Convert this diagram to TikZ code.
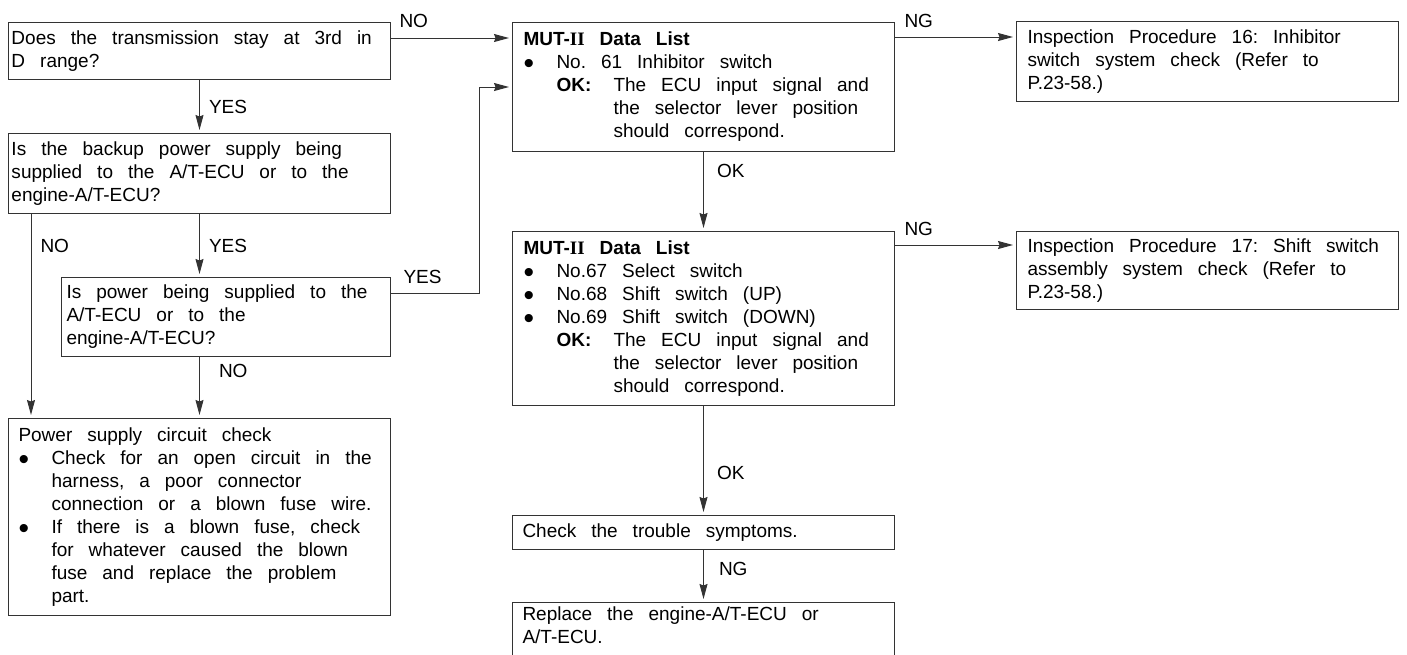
\documentclass[tikz,border=0pt]{standalone}
\usepackage{fontspec}
\setmainfont{Liberation Sans}
\newfontfamily\mutfont{Liberation Serif}
\usetikzlibrary{arrows.meta}
\newcommand\flowfont{\fontsize{19}{23}\selectfont}
\newcommand\dotitem{\makebox[33pt][l]{\raisebox{-5pt}[0pt][0pt]{\fontsize{30}{23}\selectfont\textbullet}}}
\newcommand\okline{\hspace*{33pt}\makebox[57pt][l]{\textbf{OK:}}}
\begin{document}
\begin{tikzpicture}[x=1pt,y=-1pt,
  box/.style={draw=black!80,line width=1pt,anchor=north west,align=left,font=\flowfont,inner ysep=4pt,
    execute at begin node={\spaceskip=15pt plus 2pt minus 1pt\xspaceskip=15pt plus 2pt minus 1pt}},
  arr/.style={draw=black!80,line width=1pt,-{Stealth[length=15pt,width=8pt,inset=1.5pt]},shorten >=3pt},
  lbl/.style={font=\flowfont,inner sep=0pt}]
\useasboundingbox (0,0) rectangle (1407,654);
\clip (0,0) rectangle (1407,654);
% left column: questions
\node[box,text width=376pt,inner xsep=3pt,minimum height=57pt] (q1) at (8,22) {Does the transmission stay at 3rd in\\D range?};
\node[box,text width=376pt,inner xsep=3pt,minimum height=80pt] (q2) at (8,133) {Is the backup power supply being\\supplied to the A/T-ECU or to the\\engine-A/T-ECU?};
\node[box,text width=319pt,inner xsep=5pt,minimum height=79pt] (q3) at (61,277) {Is power being supplied to the\\A/T-ECU or to the\\engine-A/T-ECU?};
\node[box,text width=362pt,inner xsep=10pt,minimum height=197pt] (pwr) at (8,418) {Power supply circuit check\\
  \dotitem Check for an open circuit in the\\
  \hspace*{33pt}harness, a poor connector\\
  \hspace*{33pt}connection or a blown fuse wire.\\
  \dotitem If there is a blown fuse, check\\
  \hspace*{33pt}for whatever caused the blown\\
  \hspace*{33pt}fuse and replace the problem\\
  \hspace*{33pt}part.};
% middle column: data list checks
\node[box,text width=360pt,inner xsep=11pt,minimum height=129pt] (mut1) at (512,22) {\textbf{MUT-{\mutfont II} Data List}\\
  \dotitem No. 61 Inhibitor switch\\
  \okline The ECU input signal and\\
  \hspace*{90pt}the selector lever position\\
  \hspace*{90pt}should correspond.};
\node[box,text width=360pt,inner xsep=11pt,minimum height=174pt] (mut2) at (512,231) {\textbf{MUT-{\mutfont II} Data List}\\
  \dotitem No.67 Select switch\\
  \dotitem No.68 Shift switch (UP)\\
  \dotitem No.69 Shift switch (DOWN)\\
  \okline The ECU input signal and\\
  \hspace*{90pt}the selector lever position\\
  \hspace*{90pt}should correspond.};
\node[box,text width=362pt,inner xsep=10pt,minimum height=34pt] (chk) at (512,515) {Check the trouble symptoms.};
\node[box,text width=362pt,inner xsep=10pt,text depth=40pt] (repl) at (512,602) {Replace the engine-A/T-ECU or\\A/T-ECU.};
% right column: procedures
\node[box,text width=360pt,inner xsep=11pt,minimum height=80pt] (insp16) at (1016,21) {Inspection Procedure 16: Inhibitor\\switch system check (Refer to\\P.23-58.)};
\node[box,text width=360pt,inner xsep=11pt,minimum height=78pt] (insp17) at (1016,231) {Inspection Procedure 17: Shift switch\\assembly system check (Refer to\\P.23-58.)};
% exits off the box sides
\coordinate (q1o) at ([yshift=-16pt]q1.north east);
\coordinate (q2l) at ([xshift=23pt]q2.south west);
\coordinate (q3o) at ([yshift=-16pt]q3.north east);
\coordinate (m1i) at ([yshift=-65pt]mut1.north west);
\coordinate (m1o) at ([yshift=-15pt]mut1.north east);
\coordinate (m2o) at ([yshift=-14pt]mut2.north east);
% connectors
\draw[arr] (q1o) -- node[lbl,pos=0,anchor=base west,xshift=8pt,yshift=11pt] {NO} (q1o -| mut1.west);
\draw[arr] (q1) -- node[lbl,midway,anchor=west,xshift=9pt] {YES} (q2);
\draw[arr] (q2.south) -- node[lbl,midway,anchor=west,xshift=9pt] {YES} (q2.south |- q3.north);
\draw[arr] (q2l) -- node[lbl,pos=0.156,anchor=west,xshift=9pt] {NO} (q2l |- pwr.north);
\draw[arr] (q2.south |- q3.south) -- node[lbl,pos=0.23,anchor=west,xshift=19pt] {NO} (pwr.north);
\draw[arr] (q3o) -- node[lbl,pos=0,anchor=base west,xshift=12pt,yshift=10pt] {YES} ++(88,0) |- (m1i);
\draw[arr] (m1o) -- node[lbl,pos=0,anchor=base west,xshift=9pt,yshift=10pt] {NG} (m1o -| insp16.west);
\draw[arr] (mut1) -- node[lbl,pos=0.24,anchor=west,xshift=13pt] {OK} (mut2);
\draw[arr] (m2o) -- node[lbl,pos=0,anchor=base west,xshift=9pt,yshift=10pt] {NG} (m2o -| insp17.west);
\draw[arr] (mut2) -- node[lbl,pos=0.61,anchor=west,xshift=13pt] {OK} (chk);
\draw[arr] (chk) -- node[lbl,pos=0.36,anchor=west,xshift=15pt] {NG} (repl);
\end{tikzpicture}
\end{document}
